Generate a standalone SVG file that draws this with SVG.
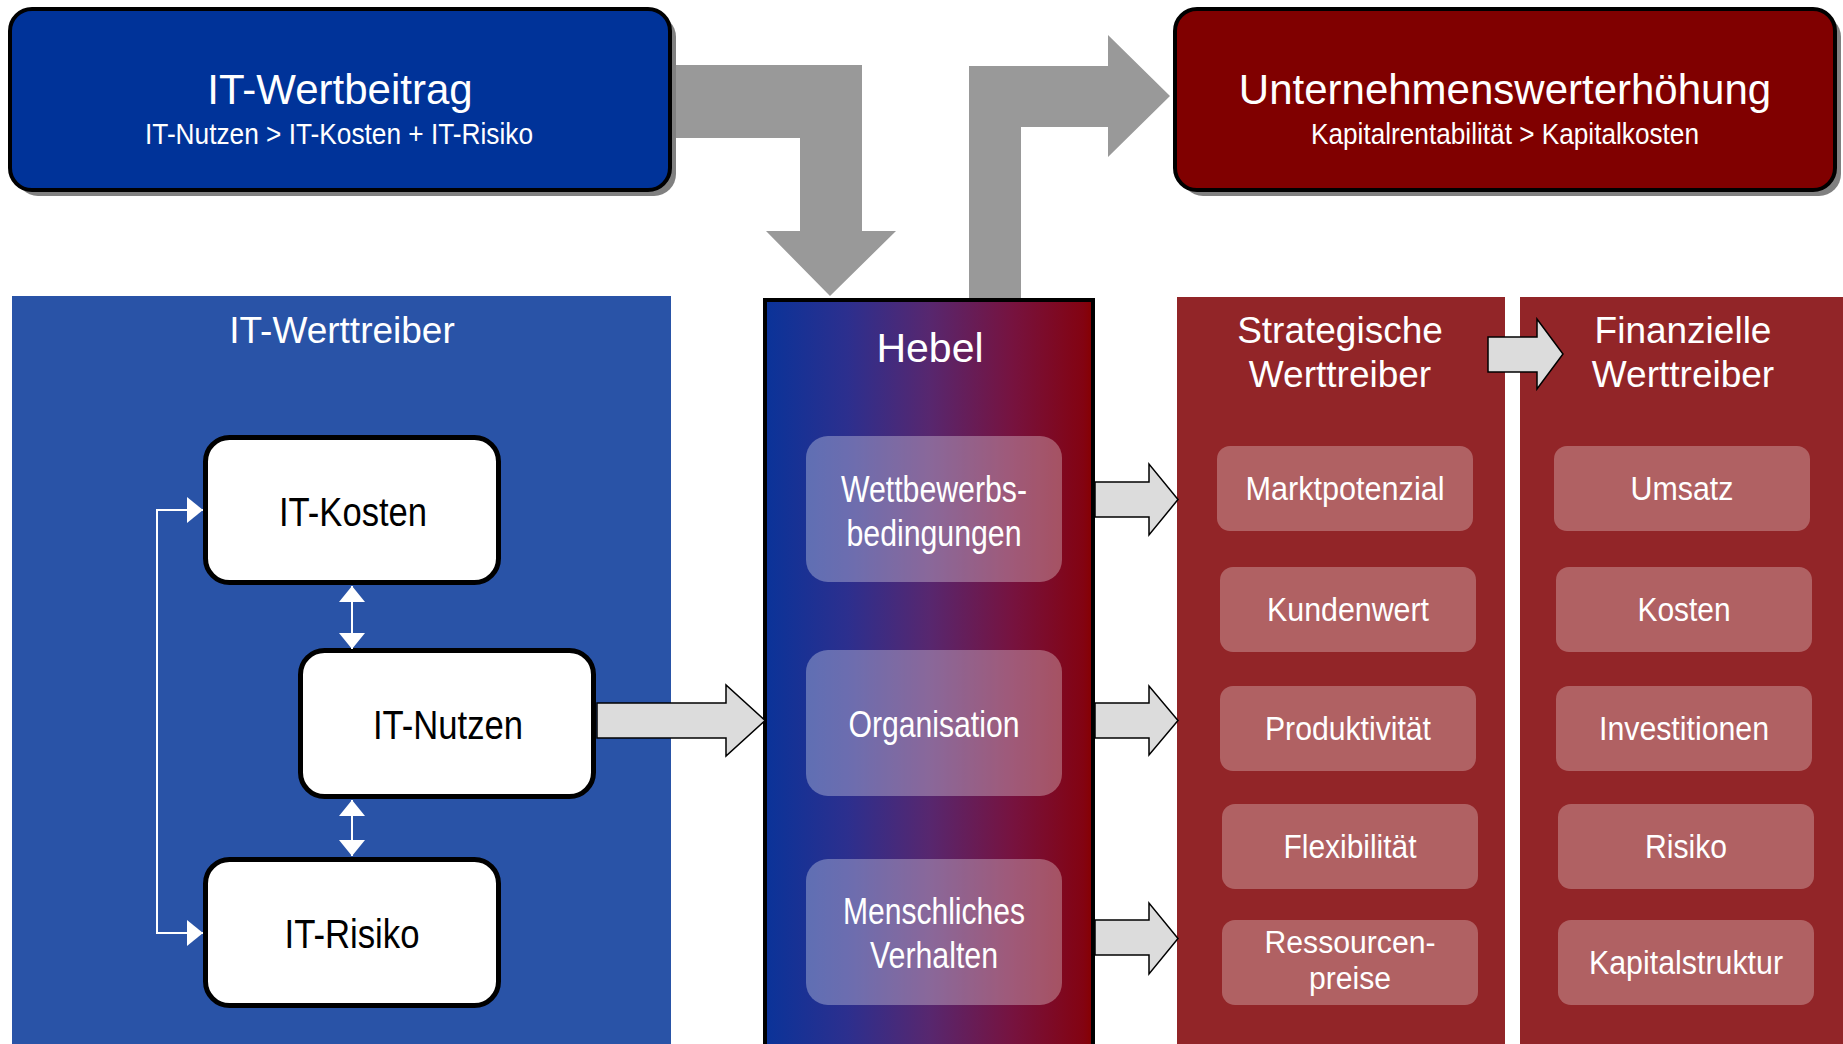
<svg xmlns="http://www.w3.org/2000/svg" width="1843" height="1044" viewBox="0 0 1843 1044">
<style>
text{font-family:"Liberation Sans",Arial,sans-serif;text-anchor:middle}
.wt{fill:#fff}
.bk{fill:#000}
.t42{font-size:42px}
.t37{font-size:37px}
.sub{font-size:29px}
.box{font-size:40px}
.hi{font-size:36px}
.ri{font-size:34px}
.ri2{font-size:31px}
.shadow{fill:#808080}
.item{fill:#fff;fill-opacity:0.28}
.hitem{fill:#fff;fill-opacity:0.3}
.panelR{fill:#922528}
.wbox{fill:#fff;stroke:#000;stroke-width:5}
.blk{fill:#dcdcdc;stroke:#000;stroke-width:1.5;stroke-linejoin:miter}
.elbow{fill:#999}
.wline{fill:none;stroke:#fff;stroke-width:2}
</style>
<defs>
<linearGradient id="hg" x1="0" y1="0" x2="1" y2="0">
<stop offset="0" stop-color="#0a3399"/>
<stop offset="0.25" stop-color="#2c2f8e"/>
<stop offset="0.5" stop-color="#57276f"/>
<stop offset="0.75" stop-color="#761340"/>
<stop offset="0.97" stop-color="#830312"/>
<stop offset="1" stop-color="#870000"/>
</linearGradient>
<marker id="wh" viewBox="0 0 16 26" refX="16" refY="13" markerWidth="16" markerHeight="26" markerUnits="userSpaceOnUse" orient="auto-start-reverse">
<path d="M0,0 L16,13 L0,26 Z" fill="#fff"/>
</marker>
</defs>

<g id="elbow-arrows">
<path class="elbow" d="M660,65 H862 V231 H896 L830,296 L766,231 H800 V138 H660 Z"/>
<path class="elbow" d="M969,300 V66 H1108 V35 L1170,96 L1108,157 V127 H1021 V300 Z"/>
</g>

<g id="it-wertbeitrag">
<rect class="shadow" x="16" y="15" width="660" height="181" rx="22"/>
<rect x="10" y="9" width="660" height="181" rx="22" fill="#003399" stroke="#000" stroke-width="4"/>
<text class="wt t42" x="340" y="104">IT-Wertbeitrag</text>
<text class="wt sub" x="339" y="144" textLength="388" lengthAdjust="spacingAndGlyphs">IT-Nutzen &gt; IT-Kosten + IT-Risiko</text>
</g>

<g id="unternehmenswert">
<rect class="shadow" x="1181" y="15" width="660" height="181" rx="22"/>
<rect x="1175" y="9" width="660" height="181" rx="22" fill="#800000" stroke="#000" stroke-width="4"/>
<text class="wt t42" x="1505" y="104">Unternehmenswerterhöhung</text>
<text class="wt sub" x="1505" y="144" textLength="388" lengthAdjust="spacingAndGlyphs">Kapitalrentabilität &gt; Kapitalkosten</text>
</g>

<g id="it-werttreiber">
<rect x="12" y="296" width="659" height="748" fill="#2953a7"/>
<text class="wt t37" x="342" y="343">IT-Werttreiber</text>
</g>

<g id="it-kosten">
<rect class="wbox" x="205.5" y="437.5" width="293" height="145" rx="24"/>
<text class="bk box" x="353" y="526" textLength="148" lengthAdjust="spacingAndGlyphs">IT-Kosten</text>
</g>
<g id="it-nutzen">
<rect class="wbox" x="300.5" y="650.5" width="293" height="146" rx="24"/>
<text class="bk box" x="448" y="739" textLength="150" lengthAdjust="spacingAndGlyphs">IT-Nutzen</text>
</g>
<g id="it-risiko">
<rect class="wbox" x="205.5" y="859.5" width="293" height="146" rx="24"/>
<text class="bk box" x="352" y="948" textLength="135" lengthAdjust="spacingAndGlyphs">IT-Risiko</text>
</g>

<g id="hebel">
<rect x="765" y="300" width="328" height="760" fill="url(#hg)" stroke="#000" stroke-width="4"/>
<text class="wt" x="930" y="362" style="font-size:41px">Hebel</text>
</g>
<g id="wettbewerb">
<rect class="hitem" x="806" y="436" width="256" height="146" rx="22"/>
<text class="wt hi" x="934" y="502" textLength="186" lengthAdjust="spacingAndGlyphs">Wettbewerbs-</text>
<text class="wt hi" x="934" y="546" textLength="175" lengthAdjust="spacingAndGlyphs">bedingungen</text>
</g>
<g id="organisation">
<rect class="hitem" x="806" y="650" width="256" height="146" rx="22"/>
<text class="wt hi" x="934" y="737" textLength="171" lengthAdjust="spacingAndGlyphs">Organisation</text>
</g>
<g id="verhalten">
<rect class="hitem" x="806" y="859" width="256" height="146" rx="22"/>
<text class="wt hi" x="934" y="924" textLength="182" lengthAdjust="spacingAndGlyphs">Menschliches</text>
<text class="wt hi" x="934" y="968" textLength="128" lengthAdjust="spacingAndGlyphs">Verhalten</text>
</g>

<g id="strategische">
<rect class="panelR" x="1177" y="297" width="328" height="747"/>
<text class="wt t37" x="1340" y="343">Strategische</text>
<text class="wt t37" x="1340" y="387">Werttreiber</text>
</g>
<g id="s-markt"><rect class="item" x="1217" y="446" width="256" height="85" rx="13"/><text class="wt ri" x="1345" y="500" textLength="199" lengthAdjust="spacingAndGlyphs">Marktpotenzial</text></g>
<g id="s-kunden"><rect class="item" x="1220" y="567" width="256" height="85" rx="13"/><text class="wt ri" x="1348" y="621" textLength="162" lengthAdjust="spacingAndGlyphs">Kundenwert</text></g>
<g id="s-produkt"><rect class="item" x="1220" y="686" width="256" height="85" rx="13"/><text class="wt ri" x="1348" y="740" textLength="166" lengthAdjust="spacingAndGlyphs">Produktivität</text></g>
<g id="s-flex"><rect class="item" x="1222" y="804" width="256" height="85" rx="13"/><text class="wt ri" x="1350" y="858" textLength="133" lengthAdjust="spacingAndGlyphs">Flexibilität</text></g>
<g id="s-ressourcen"><rect class="item" x="1222" y="920" width="256" height="85" rx="13"/><text class="wt ri2" x="1350" y="953" textLength="171" lengthAdjust="spacingAndGlyphs">Ressourcen-</text><text class="wt ri2" x="1350" y="989" textLength="82" lengthAdjust="spacingAndGlyphs">preise</text></g>

<g id="finanzielle">
<rect class="panelR" x="1520" y="297" width="323" height="747"/>
<text class="wt t37" x="1683" y="343">Finanzielle</text>
<text class="wt t37" x="1683" y="387">Werttreiber</text>
</g>
<g id="f-umsatz"><rect class="item" x="1554" y="446" width="256" height="85" rx="13"/><text class="wt ri" x="1682" y="500" textLength="103" lengthAdjust="spacingAndGlyphs">Umsatz</text></g>
<g id="f-kosten"><rect class="item" x="1556" y="567" width="256" height="85" rx="13"/><text class="wt ri" x="1684" y="621" textLength="93" lengthAdjust="spacingAndGlyphs">Kosten</text></g>
<g id="f-invest"><rect class="item" x="1556" y="686" width="256" height="85" rx="13"/><text class="wt ri" x="1684" y="740" textLength="170" lengthAdjust="spacingAndGlyphs">Investitionen</text></g>
<g id="f-risiko"><rect class="item" x="1558" y="804" width="256" height="85" rx="13"/><text class="wt ri" x="1686" y="858" textLength="82" lengthAdjust="spacingAndGlyphs">Risiko</text></g>
<g id="f-kapital"><rect class="item" x="1558" y="920" width="256" height="85" rx="13"/><text class="wt ri" x="1686" y="974" textLength="194" lengthAdjust="spacingAndGlyphs">Kapitalstruktur</text></g>

<g id="connectors">
<path class="wline" d="M203,510 H157 V933 H203" marker-start="url(#wh)" marker-end="url(#wh)"/>
<path class="wline" d="M352,586 V649" marker-start="url(#wh)" marker-end="url(#wh)"/>
<path class="wline" d="M352,800 V856" marker-start="url(#wh)" marker-end="url(#wh)"/>
<path class="blk" d="M597,703 H726 V685 L765,720.5 L726,756 V738 H597 Z"/>
<path class="blk" d="M1095,482 H1149 V464 L1178,499.5 L1149,535 V517 H1095 Z"/>
<path class="blk" d="M1095,703 H1149 V686 L1178,720.5 L1149,755 V738 H1095 Z"/>
<path class="blk" d="M1095,920 H1149 V903 L1178,938.5 L1149,974 V955 H1095 Z"/>
<path class="blk" d="M1488,337 H1537 V319 L1563,354 L1537,389 V372 H1488 Z"/>
</g>
</svg>
